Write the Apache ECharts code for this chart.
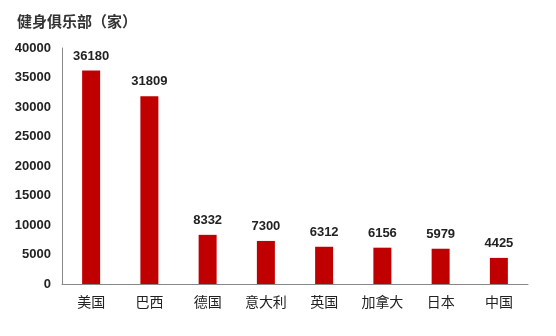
<!DOCTYPE html>
<html><head><meta charset="utf-8">
<script src="https://cdn.jsdelivr.net/npm/echarts@6/dist/echarts.min.js"></script>
<style>html,body{margin:0;padding:0;background:#fff}#c{width:556px;height:336px}</style>
</head><body><div id="c"></div>
<script>
const categories = ['美国','巴西','德国','意大利','英国','加拿大','日本','中国'];
const values = [36180,31809,8332,7300,6312,6156,5979,4425];
const titleText = '健身俱乐部（家）';
const chart = echarts.init(document.getElementById('c'));
chart.setOption({
  animation:false,
  title:{text:titleText,left:12,top:9,textStyle:{fontFamily:'Noto Sans CJK SC',fontSize:15,fontWeight:'bold',color:'#333'}},
  grid:{left:62,right:28,top:48,bottom:52},
  xAxis:{type:'category',data:categories,axisTick:{show:false},
    axisLine:{lineStyle:{color:'#888',width:1}},
    axisLabel:{fontFamily:'Noto Sans CJK SC',fontSize:14,color:'#222',margin:11}},
  yAxis:{type:'value',min:0,max:40000,interval:5000,splitLine:{show:false},
    axisLine:{show:true,lineStyle:{color:'#888',width:1}},axisTick:{show:false},
    axisLabel:{fontFamily:'Liberation Sans',fontSize:13,fontWeight:'bold',color:'#222',margin:11,formatter:v=>String(v)}},
  series:[{type:'bar',data:values,barWidth:18,itemStyle:{color:'#C00000'},
    label:{show:true,position:'top',distance:8,fontFamily:'Liberation Sans',fontSize:13,fontWeight:'bold',color:'#222'}}]
});
</script></body></html>
